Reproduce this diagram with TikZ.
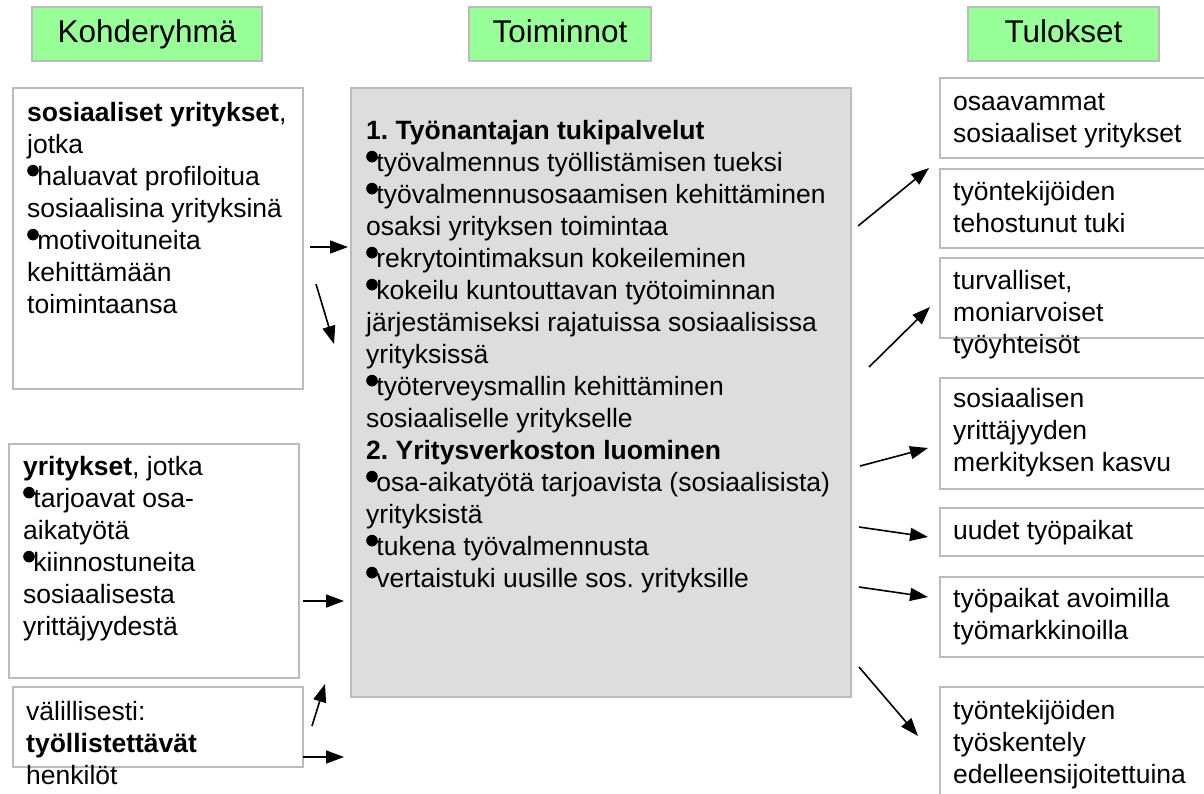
\documentclass[tikz,border=0pt]{standalone}
\usepackage{fontspec}
\setmainfont{Liberation Sans}
\usetikzlibrary{arrows.meta}
\definecolor{headgreen}{HTML}{99FF99}
\definecolor{boxline}{HTML}{BBBBBB}
\definecolor{midfill}{HTML}{DDDDDD}
% raised round bullet used in the lists
\newcommand\bul{\tikz[baseline=0pt]\fill[black] (5.8pt,14.6pt) circle[radius=5.8pt];\hspace{-1.4pt}}

\begin{document}
\frenchspacing
\begin{tikzpicture}[x=1pt,y=-1pt,
  head/.style={draw=boxline, line width=1.5pt, fill=headgreen, minimum height=54pt,
    inner sep=0pt, text height=23pt, text depth=6pt,
    font=\fontsize{31.5}{36}\selectfont},
  frame/.style={draw=boxline, line width=1.5pt, anchor=north west, inner sep=0pt},
  body/.style={anchor=north west, inner sep=0pt, align=left,
    font=\fontsize{26.5}{32}\selectfont},
  link/.style={line width=1.6pt, -{Triangle[length=18pt,width=13pt]}}]
\useasboundingbox (0,0) rectangle (1204,793);
\clip (0,0) rectangle (1204,793);

% column headings
\node[head, minimum width=230pt] (hk) at (147,34) {Kohderyhmä};
\node[head, minimum width=182pt] (ht) at (560,34) {Toiminnot};
\node[head, minimum width=191pt] (hr) at (1063.5,34) {Tulokset};

% target groups
\node[frame, minimum width=290pt, minimum height=301pt] (k1) at (12,87) {};
\node[frame, minimum width=290pt, minimum height=234pt] (k2) at (8,443) {};
\node[frame, minimum width=290pt, minimum height=80pt] (k3) at (12,686) {};

\node[body] (k1t) at (27,98.6) {\strut\textbf{sosiaaliset yritykset},\\
jotka\\
\bul haluavat profiloitua\\
sosiaalisina yrityksinä\\
\bul motivoituneita\\
kehittämään\\
toimintaansa};

\node[body] (k2t) at (23,452.6) {\strut\textbf{yritykset}, jotka\\
\bul tarjoavat osa-\\
aikatyötä\\
\bul kiinnostuneita\\
sosiaalisesta\\
yrittäjyydestä};

\node[body] (k3t) at (26,697.6) {\strut välillisesti:\\
\textbf{työllistettävät}\\
henkilöt};

% activities
\node[frame, fill=midfill, minimum width=500pt, minimum height=609pt] (mid) at (350,87) {};
\node[body] (midt) at (366,116.6) {\strut\textbf{1. Työnantajan tukipalvelut}\\
\bul työvalmennus työllistämisen tueksi\\
\bul työvalmennusosaamisen kehittäminen\\
osaksi yrityksen toimintaa\\
\bul rekrytointimaksun kokeileminen\\
\bul kokeilu kuntouttavan työtoiminnan\\
järjestämiseksi rajatuissa sosiaalisissa\\
yrityksissä\\
\bul työterveysmallin kehittäminen\\
sosiaaliselle yritykselle\\
\textbf{2. Yritysverkoston luominen}\\
\bul osa-aikatyötä tarjoavista (sosiaalisista)\\
yrityksistä\\
\bul tukena työvalmennusta\\
\bul vertaistuki uusille sos. yrityksille};

% results
\node[frame, minimum width=271pt, minimum height=80pt] (r1) at (939,77) {};
\node[frame, minimum width=271pt, minimum height=79pt] (r2) at (939,168) {};
\node[frame, minimum width=271pt, minimum height=80pt] (r3) at (939,257) {};
\node[frame, minimum width=271pt, minimum height=111pt] (r4) at (939,377) {};
\node[frame, minimum width=271pt, minimum height=48pt] (r5) at (939,507) {};
\node[frame, minimum width=271pt, minimum height=80pt] (r6) at (939,576) {};
\node[frame, minimum width=271pt, minimum height=130pt] (r7) at (939,686) {};

\node[body] (r1t) at (953,87.6) {\strut osaavammat\\ sosiaaliset yritykset};
\node[body] (r2t) at (953,177.6) {\strut työntekijöiden\\ tehostunut tuki};
\node[body] (r3t) at (953,266.6) {\strut turvalliset,\\ moniarvoiset\\ työyhteisöt};
\node[body] (r4t) at (953,384.6) {\strut sosiaalisen\\ yrittäjyyden\\ merkityksen kasvu};
\node[body] (r5t) at (953,516.6) {\strut uudet työpaikat};
\node[body] (r6t) at (953,584.6) {\strut työpaikat avoimilla\\ työmarkkinoilla};
\node[body] (r7t) at (953,696.6) {\strut työntekijöiden\\ työskentely\\ edelleensijoitettuina};

% connector end points
\coordinate (a1s) at (310,247);  \coordinate (a1e) at (348,247);
\coordinate (a2s) at (316,284);  \coordinate (a2e) at (334,344);
\coordinate (a3s) at (303,601);  \coordinate (a3e) at (344,601);
\coordinate (a4s) at (312,726);  \coordinate (a4e) at (325,684);
\coordinate (a5s) at (303,757);  \coordinate (a5e) at (344,757);
\coordinate (b1s) at (858,226);  \coordinate (b1e) at (929,168);
\coordinate (b2s) at (869,367);  \coordinate (b2e) at (930,307);
\coordinate (b3s) at (860,466);  \coordinate (b3e) at (928,448);
\coordinate (b4s) at (859,527);  \coordinate (b4e) at (928,537);
\coordinate (b5s) at (859,587);  \coordinate (b5e) at (928,597);
\coordinate (b6s) at (859,667);  \coordinate (b6e) at (918,736);

\draw[link] (a1s) -- (a1e);
\draw[link] (a2s) -- (a2e);
\draw[link] (a3s) -- (a3e);
\draw[link] (a4s) -- (a4e);
\draw[link] (a5s) -- (a5e);
\draw[link] (b1s) -- (b1e);
\draw[link] (b2s) -- (b2e);
\draw[link] (b3s) -- (b3e);
\draw[link] (b4s) -- (b4e);
\draw[link] (b5s) -- (b5e);
\draw[link] (b6s) -- (b6e);
\end{tikzpicture}
\end{document}
